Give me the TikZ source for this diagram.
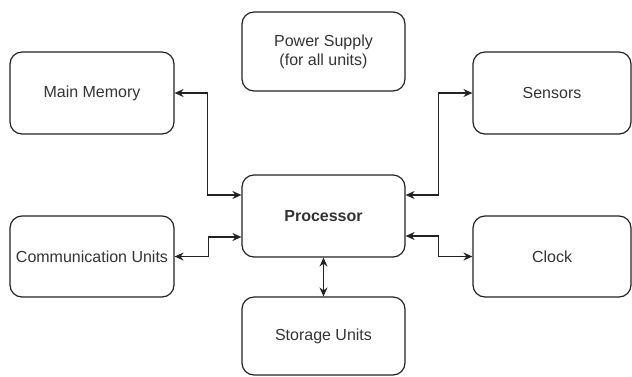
\documentclass[tikz,border=0pt]{standalone}
\usepackage{fontspec}
\setmainfont{Liberation Sans}
\usetikzlibrary{arrows.meta}
\definecolor{inkline}{HTML}{222222}
\definecolor{inktext}{HTML}{333333}
\tikzset{
  unit/.style={draw=inkline, line width=1.2pt, rounded corners=12pt,
    text=inktext, font=\fontsize{16}{19}\selectfont, align=center, inner sep=2pt},
  link/.style={draw=inkline, line width=1.2pt,
    {Stealth[length=9pt,width=8pt,inset=3pt]}-{Stealth[length=9pt,width=8pt,inset=3pt]}}
}
\begin{document}
\begin{tikzpicture}[x=1pt,y=-1pt]
  \useasboundingbox (0,0) rectangle (632,376);
  % units
  \node[unit, minimum width=164pt, minimum height=82pt] (mem) at (92,93) {Main Memory};
  \node[unit, minimum width=163pt, minimum height=79pt] (pow) at (323.5,51.5) {Power Supply\\ (for all units)};
  \node[unit, minimum width=158pt, minimum height=82pt] (sens) at (552,93) {Sensors};
  \node[unit, minimum width=164pt, minimum height=81pt] (comm) at (92,256.5) {Communication Units};
  \node[unit, minimum width=163pt, minimum height=82pt, font=\fontsize{16}{19}\selectfont\bfseries] (proc) at (323.5,216) {Processor};
  \node[unit, minimum width=158pt, minimum height=81pt] (clk) at (552,256.5) {Clock};
  \node[unit, minimum width=163pt, minimum height=78pt] (stor) at (323.5,336) {Storage Units};
  % bidirectional links to the processor
  \draw[link] (mem.east) -- ++(33,0) |- ([yshift=21pt]proc.west);
  \draw[link] (comm.east) -- ++(34,0) |- ([yshift=-21pt]proc.west);
  \draw[link] ([yshift=21pt]proc.east) -- ++(33,0) |- (sens.west);
  \draw[link] ([yshift=-20pt]proc.east) -- ++(33,0) |- (clk.west);
  \draw[link] (proc.south) -- (stor.north);
\end{tikzpicture}
\end{document}
